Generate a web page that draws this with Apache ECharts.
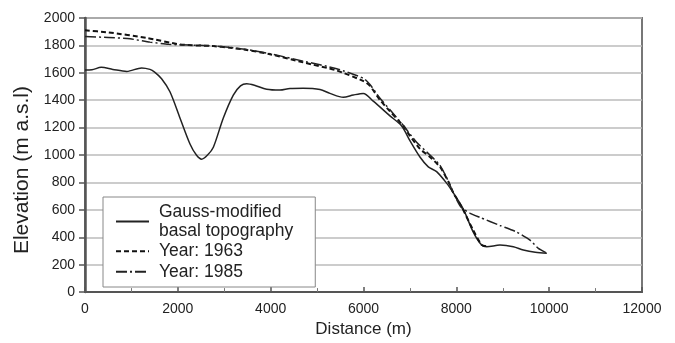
<!DOCTYPE html>
<html>
<head>
<meta charset="utf-8">
<script src="https://cdn.jsdelivr.net/npm/echarts@6/dist/echarts.min.js"></script>
<style>html,body{margin:0;padding:0;background:#fff}#c{width:675px;height:343px}</style>
</head>
<body>
<div id="c"></div>
<script>
// Series names
const seriesNames = ['Gauss-modified\nbasal topography', 'Year: 1963', 'Year: 1985'];

// Gauss-modified basal topography
const basalX = [0,150,350,600,900,1220,1400,1500,1650,1830,2046,2262,2400,2513,2640,2765,2980,3195,3350,3483,3650,3914,4200,4416,4700,5063,5278,5565,5780,5995,6210,6570,6822,7000,7216,7396,7575,7790,7935,8150,8365,8545,8653,8940,9228,9443,9700,9950];
const basalY = [1620,1622,1640,1625,1610,1636,1625,1605,1557,1462,1271,1081,1000,970,1000,1057,1271,1438,1505,1521,1510,1480,1474,1486,1488,1479,1450,1421,1438,1450,1393,1286,1212,1105,986,914,879,795,724,605,438,343,331,343,331,307,290,283];

// Surface 1963
const s1963X = [0,500,1330,2046,2765,3124,3483,3985,4703,5421,6000,6139,6355,6571,6860,7000,7216,7432,7648,7827,7935,8122,8365,8545,8650];
const s1963Y = [1910,1895,1855,1807,1795,1783,1767,1736,1676,1617,1540,1505,1402,1319,1212,1140,1045,986,914,807,724,617,450,345,335];

// Surface 1985
const s1985X = [0,500,970,1400,1800,2765,3124,3483,3985,4703,5421,6000,6139,6355,6571,6860,7144,7432,7648,7827,7935,8100,8300,8510,8940,9300,9587,9767,9950];
const s1985Y = [1865,1858,1848,1824,1808,1797,1785,1770,1740,1685,1630,1560,1515,1415,1330,1215,1093,1000,925,810,724,620,575,545,486,438,379,319,285];

// Axis ticks
const xTicks = [0,2000,4000,6000,8000,10000,12000];
const yTicks = [0,200,400,600,800,1000,1200,1400,1600,1800,2000];

const zip = (xs, ys) => xs.map((x, i) => [x, ys[i]]);
const FONT = "'Liberation Sans', Arial, Helvetica, sans-serif";
const TXT = '#222';

const chart = echarts.init(document.getElementById('c'), null, {renderer: 'canvas'});
chart.setOption({
  animation: false,
  backgroundColor: '#fff',
  textStyle: {fontFamily: FONT, color: TXT},
  grid: {left: 85, right: 33, top: 18, bottom: 45, show: true, borderColor: '#777', borderWidth: 2, containLabel: false},
  xAxis: {
    type: 'value', min: xTicks[0], max: xTicks[xTicks.length - 1], interval: 2000,
    name: 'Distance (m)', nameLocation: 'middle', nameGap: 28,
    nameTextStyle: {fontSize: 17, color: TXT, fontFamily: FONT},
    axisLine: {show: true, lineStyle: {color: '#555', width: 2}},
    axisTick: {show: true, inside: true, length: 5, lineStyle: {color: '#555', width: 1.5}},
    minorTick: {show: true, splitNumber: 2, length: 4, lineStyle: {color: '#777', width: 1}},
    axisLabel: {fontSize: 14, color: TXT, margin: 10, fontFamily: FONT, formatter: v => String(v)},
    splitLine: {show: false}
  },
  yAxis: {
    type: 'value', min: yTicks[0], max: yTicks[yTicks.length - 1], interval: 200,
    name: 'Elevation (m a.s.l)', nameLocation: 'middle', nameGap: 50,
    nameTextStyle: {fontSize: 21, color: TXT, fontFamily: FONT, padding: [0, 30, 0, 0]},
    axisLine: {show: true, lineStyle: {color: '#555', width: 2.5}},
    axisTick: {show: true, inside: false, length: 6, lineStyle: {color: '#555', width: 1.5}},
    axisLabel: {fontSize: 14, color: TXT, margin: 10, fontFamily: FONT, formatter: v => String(v)},
    splitLine: {show: true, lineStyle: {color: '#bbb', width: 1.5}}
  },
  legend: {
    show: true, orient: 'vertical', left: 103, top: 197,
    padding: [6, 22, 6, 12], itemGap: 2, itemWidth: 33, itemHeight: 10,
    backgroundColor: '#fff', borderColor: '#888', borderWidth: 1,
    selectedMode: false,
    itemStyle: {color: 'rgba(0,0,0,0)', borderWidth: 0, opacity: 0},
    textStyle: {fontSize: 17.5, lineHeight: 18.5, color: TXT, fontFamily: FONT, padding: [0, 0, 0, 5]},
    data: seriesNames
  },
  series: [
    {
      name: seriesNames[0], type: 'line', data: zip(basalX, basalY),
      symbol: 'none', smooth: 0.3, z: 3,
      lineStyle: {color: '#222', width: 1.5, type: 'solid'}, itemStyle: {color: '#222'}
    },
    {
      name: seriesNames[1], type: 'line', data: zip(s1963X, s1963Y),
      symbol: 'none', smooth: 0.2, z: 4,
      lineStyle: {color: '#111', width: 2, type: [5, 3]}, itemStyle: {color: '#111'}
    },
    {
      name: seriesNames[2], type: 'line', data: zip(s1985X, s1985Y),
      symbol: 'none', smooth: 0.2, z: 5,
      lineStyle: {color: '#222', width: 1.5, type: [11, 3, 2, 3]}, itemStyle: {color: '#222'}
    }
  ]
});
</script>
</body>
</html>
